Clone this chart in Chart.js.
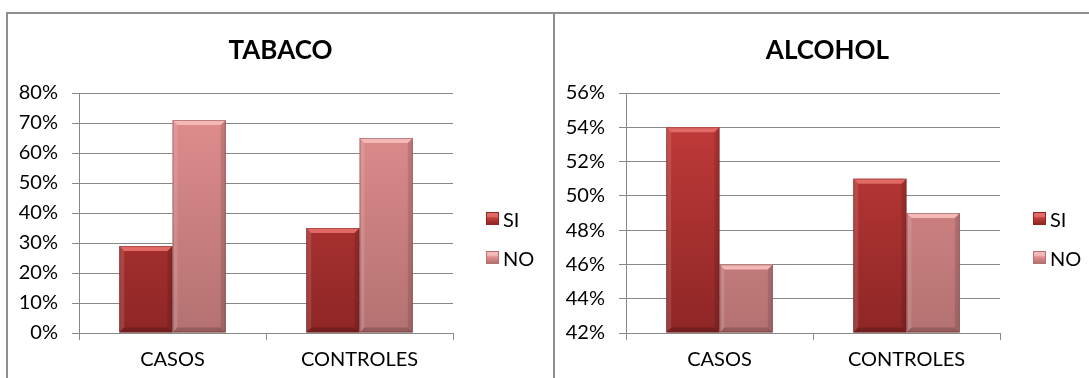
<!DOCTYPE html>
<html>
<head>
<meta charset="utf-8">
<script src="https://cdn.jsdelivr.net/npm/chart.js@4"></script>
<style>
    html, body { margin: 0; padding: 0; background: #fff; }
    body { width: 1089px; height: 378px; position: relative; overflow: hidden; font-family: Lato, "Open Sans", sans-serif; }
    .chart-box { position: absolute; top: 12px; height: 420px; border: 2px solid #8f8f8f; box-sizing: border-box; }
    .chart-box canvas { position: absolute; left: 0; top: 0; }
    .chart-title { position: absolute; left: 0; top: 20px; width: 545px; text-align: center; font-size: 26px; font-weight: bold; color: #000; line-height: 30px; }
    .legend { position: absolute; left: 478px; top: 185px; font-size: 20px; color: #000; }
    .legend-item { display: flex; align-items: center; height: 39px; }
    .legend-swatch { width: 13px; height: 13px; margin-right: 4px; box-sizing: border-box; }
</style>
</head>
<body>
<div class="chart-box" style="left:6px;width:549px;">
    <canvas id="tabaco" width="545" height="380"></canvas>
    <div class="chart-title">TABACO</div>
    <div class="legend" id="tabaco-legend"></div>
</div>
<div class="chart-box" style="left:553px;width:560px;">
    <canvas id="alcohol" width="545" height="380"></canvas>
    <div class="chart-title">ALCOHOL</div>
    <div class="legend" id="alcohol-legend"></div>
</div>
<script>
'use strict';

const categories = ["CASOS", "CONTROLES"];
const seriesNames = ["SI", "NO"];

const tabacoSi = [29, 35];
const tabacoNo = [71, 65];
const tabacoRange = [0, 80, 10];

const alcoholSi = [54, 51];
const alcoholNo = [46, 49];
const alcoholRange = [42, 56, 2];

// top colour, bottom colour, bevel highlight
const barColors = {
    SI: ["#c63d3b", "#8e2626", "#e26a66"],
    NO: ["#e38f8f", "#b47171", "#f4b9b7"],
};

const FONT = "Lato, 'Open Sans', sans-serif";
const GRID = "#888888";

function barGradient(name) {
    return context => {
        const area = context.chart.chartArea;
        const c = barColors[name];
        if (!area) return c[0];
        const g = context.chart.ctx.createLinearGradient(0, area.top, 0, area.bottom);
        g.addColorStop(0, c[0]);
        g.addColorStop(1, c[1]);
        return g;
    };
}

const bevelPlugin = {
    id: "bevel",
    afterDatasetsDraw(chart) {
        const ctx = chart.ctx;
        const area = chart.chartArea;
        ctx.save();
        ctx.beginPath();
        ctx.rect(area.left, area.top, area.right - area.left, area.bottom - area.top + 1);
        ctx.clip();
        chart.data.datasets.forEach((ds, i) => {
            const light = barColors[ds.label][2];
            chart.getDatasetMeta(i).data.forEach(bar => {
                const { x, y, base, width } = bar.getProps(["x", "y", "base", "width"], true);
                const l = x - width / 2, r = x + width / 2, b = 5;
                ctx.fillStyle = light;
                ctx.beginPath();
                ctx.moveTo(l, y); ctx.lineTo(r, y); ctx.lineTo(r - b, y + b); ctx.lineTo(l + b, y + b);
                ctx.closePath(); ctx.fill();
                ctx.fillStyle = "rgba(255,255,255,0.12)";
                ctx.beginPath();
                ctx.moveTo(l, y); ctx.lineTo(l + b, y + b); ctx.lineTo(l + b, base - b); ctx.lineTo(l, base);
                ctx.closePath(); ctx.fill();
                ctx.fillStyle = "rgba(0,0,0,0.12)";
                ctx.beginPath();
                ctx.moveTo(r, y); ctx.lineTo(r - b, y + b); ctx.lineTo(r - b, base - b); ctx.lineTo(r, base);
                ctx.closePath(); ctx.fill();
                ctx.fillStyle = "rgba(0,0,0,0.18)";
                ctx.beginPath();
                ctx.moveTo(l, base); ctx.lineTo(l + b, base - b); ctx.lineTo(r - b, base - b); ctx.lineTo(r, base);
                ctx.closePath(); ctx.fill();
                ctx.strokeStyle = "rgba(80,20,20,0.35)";
                ctx.lineWidth = 1;
                ctx.strokeRect(l + 0.5, y + 0.5, width - 1, base - y - 1);
            });
        });
        ctx.restore();
    }
};

function makeChart(id, si, no, range) {
    const [min, max, step] = range;
    return new Chart(document.getElementById(id), {
        type: "bar",
        data: {
            labels: categories,
            datasets: [
                { label: seriesNames[0], data: si, base: min, backgroundColor: barGradient("SI") },
                { label: seriesNames[1], data: no, base: min, backgroundColor: barGradient("NO") },
            ]
        },
        options: {
            responsive: false,
            animation: false,
            devicePixelRatio: 1,
            categoryPercentage: 0.57,
            barPercentage: 1,
            layout: { padding: { left: 0, right: 100, top: 79, bottom: 0 } },
            plugins: {
                legend: { display: false },
                tooltip: { enabled: false },
                title: { display: false },
            },
            scales: {
                x: {
                    grid: { display: true, drawOnChartArea: false, color: GRID, tickLength: 7 },
                    border: { color: GRID, width: 1 },
                    ticks: { color: "#000", padding: 8, font: { family: FONT, size: 20 } },
                    afterFit: scale => { scale.height = 61; },
                },
                y: {
                    min: min,
                    max: max,
                    grid: { color: GRID, lineWidth: 1, tickLength: 7 },
                    border: { color: GRID, width: 1 },
                    ticks: {
                        stepSize: step,
                        color: "#000",
                        padding: 14,
                        font: { family: FONT, size: 20 },
                        callback: v => v + "%",
                    },
                    afterFit: scale => { scale.width = 71; },
                },
            },
        },
        plugins: [bevelPlugin],
    });
}

function makeLegend(id) {
    const holder = document.getElementById(id);
    seriesNames.forEach(name => {
        const c = barColors[name];
        const item = document.createElement("div");
        item.className = "legend-item";
        item.innerHTML = `<span class="legend-swatch" style="background:linear-gradient(${c[2]} 0 30%, ${c[0]} 45%, ${c[1]});border:1px solid ${c[1]}"></span><span>${name}</span>`;
        holder.appendChild(item);
    });
}

makeChart("tabaco", tabacoSi, tabacoNo, tabacoRange);
makeChart("alcohol", alcoholSi, alcoholNo, alcoholRange);
makeLegend("tabaco-legend");
makeLegend("alcohol-legend");
</script>
</body>
</html>
